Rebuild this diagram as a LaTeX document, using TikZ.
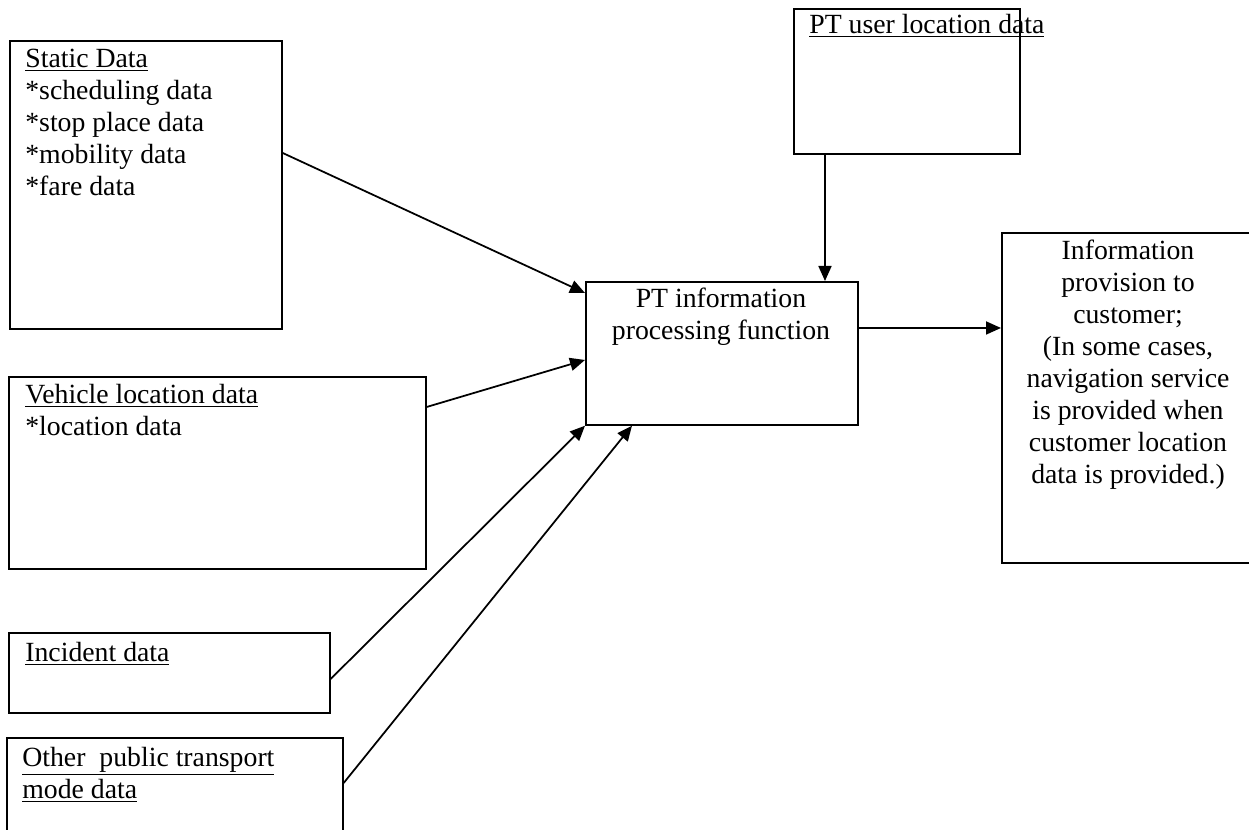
\documentclass[tikz,border=0pt]{standalone}
\usepackage{fontspec}
\setmainfont{Liberation Serif}
\usetikzlibrary{arrows.meta,calc}
\tikzset{
  box/.style={draw, line width=1pt, anchor=north west, inner sep=0pt, fill=none},
  txt/.style={inner sep=0pt, font=\fontsize{15.8}{18.2}\selectfont},
  conn/.style={line width=1pt, -{Triangle[length=0.30cm,width=0.26cm]}}
}
\begin{document}
\begin{tikzpicture}[x=0.02cm,y=-0.02cm]
\useasboundingbox (0,0) rectangle (1249,830);
% boxes
\node[box, minimum width=5.44cm, minimum height=5.76cm] (static) at (9,40) {};
\node[box, minimum width=8.34cm, minimum height=3.84cm] (veh) at (8,376) {};
\node[box, minimum width=6.42cm, minimum height=1.60cm] (inc) at (8,632) {};
\node[box, minimum width=6.72cm, minimum height=2.60cm] (oth) at (6,737) {};
\node[box, minimum width=4.52cm, minimum height=2.90cm] (ptu) at (793,8) {};
\node[box, minimum width=5.44cm, minimum height=2.86cm] (proc) at (585,281) {};
\node[box, minimum width=5.20cm, minimum height=6.60cm] (info) at (1001,232) {};
% texts
\node[txt, anchor=north west, align=left] (tstatic) at (25,44.6)
  {\strut\underline{Static Data}\\*scheduling data\\*stop place data\\*mobility data\\*fare data};
\node[txt, anchor=north west, align=left] (tveh) at (25,380.6)
  {\strut\underline{Vehicle location data}\\*location data};
\node[txt, anchor=north west, align=left] (tinc) at (25,638.6)
  {\strut\underline{Incident data}};
\node[txt, anchor=north west, align=left] (toth) at (22,743.6)
  {\strut\underline{Other\ \ public transport}\\\underline{mode data}};
\node[txt, anchor=north west, align=left] (tptu) at (809,10.6)
  {\strut\underline{PT user location data}};
\node[txt, anchor=north, align=center] (tproc) at (721,284.6)
  {\strut PT information\\processing function};
\node[txt, anchor=north, align=center] (tinfo) at (1128,236.6)
  {\strut Information\\provision to\\customer;\\(In some cases,\\navigation service\\is provided when\\customer location\\data is provided.)};
% connector end points
\coordinate (s1) at ([yshift=-2.26cm]static.north east);
\coordinate (s2) at ([yshift=-0.24cm]proc.north west);
\coordinate (v1) at ([yshift=-0.62cm]veh.north east);
\coordinate (v2) at ([yshift=-1.58cm]proc.north west);
\coordinate (i1) at ([yshift=-0.94cm]inc.north east);
\coordinate (o1) at ([yshift=-0.92cm]oth.north east);
\coordinate (o2) at ([xshift=0.94cm]proc.south west);
\coordinate (u1) at ([xshift=0.64cm]ptu.south west);
\coordinate (p1) at ([yshift=-0.94cm]proc.north east);
% connectors
\draw[conn] (s1) -- (s2);
\draw[conn] (v1) -- (v2);
\draw[conn] (i1) -- (proc.south west);
\draw[conn] (o1) -- (o2);
\draw[conn] (u1) -- (u1 |- proc.north);
\draw[conn] (p1) -- (p1 -| info.west);
\end{tikzpicture}
\end{document}
